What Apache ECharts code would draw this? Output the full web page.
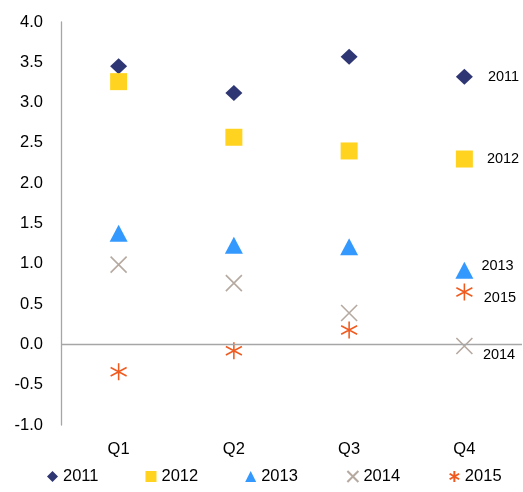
<!DOCTYPE html>
<html><head><meta charset="utf-8">
<script src="https://cdn.jsdelivr.net/npm/echarts@6/dist/echarts.min.js"></script>
<style>html,body{margin:0;padding:0;background:#fff}#c{width:523px;height:492px}</style>
</head><body><div id="c"></div>
<script>
const categories = ['Q1','Q2','Q3','Q4'];
const seriesNames = ['2011','2012','2013','2014','2015'];
const s2011 = [3.45, 3.12, 3.57, 3.32];
const s2012 = [3.26, 2.57, 2.40, 2.30];
const s2013 = [1.38, 1.23, 1.21, 0.92];
const s2014 = [0.99, 0.76, 0.39, -0.02];
const s2015 = [-0.34, -0.08, 0.18, 0.65];
const yTicks = {min: -1, max: 4, interval: 0.5};

const FONT = '"Liberation Sans", Arial, sans-serif';
const colors = ['#2E3673', '#FFD320', '#3399FF', '#B5A9A0', '#F05A1E'];
const XPATH = 'path://M-1,-1L1,1M-1,1L1,-1';
const STAR = 'path://M0,-1L0,1M-0.866,-0.5L0.866,0.5M-0.866,0.5L0.866,-0.5';

function mk(name, data, idx, symbol, size, labelOpt, stroke) {
  const d = data.map((v, i) => {
    const o = {value: v};
    if (i === 3) {
      o.label = Object.assign({show: true, formatter: name, color: '#000', fontSize: 14.5, fontFamily: FONT, position: 'right'}, labelOpt);
    }
    return o;
  });
  return {
    name, type: 'scatter', data: d, symbol, symbolSize: size,
    itemStyle: stroke ? {color: 'none', borderColor: colors[idx], borderWidth: 1.6, opacity: 1}
                      : {color: colors[idx], opacity: 1},
    emphasis: {disabled: true},
    z: 3
  };
}

const series = [
  mk('2011', s2011, 0, 'diamond', [17,16], {distance: 15}),
  mk('2012', s2012, 1, 'rect', [17,17], {distance: 14}),
  mk('2013', s2013, 2, 'triangle', [18,17], {distance: 8, offset: [0,-4]}),
  mk('2014', s2014, 3, XPATH, [16,16], {distance: 8, offset: [0,9]}, true),
  mk('2015', s2015, 4, STAR, [16,17], {distance: 9, offset: [0,6]}, true)
];
series[0].markLine = {
  silent: true, symbol: 'none', animation: false,
  label: {show: false},
  lineStyle: {color: '#A6A6A6', width: 1.3, type: 'solid'},
  emphasis: {disabled: true},
  data: [{yAxis: 0}]
};

const chart = echarts.init(document.getElementById('c'));
chart.setOption({
  animation: false,
  backgroundColor: '#fff',
  color: colors,
  grid: {left: 61, right: 1, top: 22, bottom: 67},
  xAxis: {
    type: 'category', data: categories, boundaryGap: true,
    axisLine: {show: false}, axisTick: {show: false},
    axisLabel: {color: '#000', fontSize: 16.5, fontFamily: FONT, margin: 16}
  },
  yAxis: {
    type: 'value', min: yTicks.min, max: yTicks.max, interval: yTicks.interval,
    axisLine: {show: true, lineStyle: {color: '#A6A6A6', width: 1.3}},
    axisTick: {show: false}, splitLine: {show: false},
    axisLabel: {color: '#000', fontSize: 16.5, fontFamily: FONT, margin: 18,
      formatter: v => v.toFixed(1)}
  },
  legend: {
    bottom: 2, left: 42, itemGap: 47, itemWidth: 11, itemHeight: 11,
    textStyle: {color: '#000', fontSize: 16.5, fontFamily: FONT},
    data: seriesNames.map((n, i) => ({name: n, icon: ['diamond','rect','triangle',XPATH,STAR][i]}))
  },
  series
});
</script></body></html>
